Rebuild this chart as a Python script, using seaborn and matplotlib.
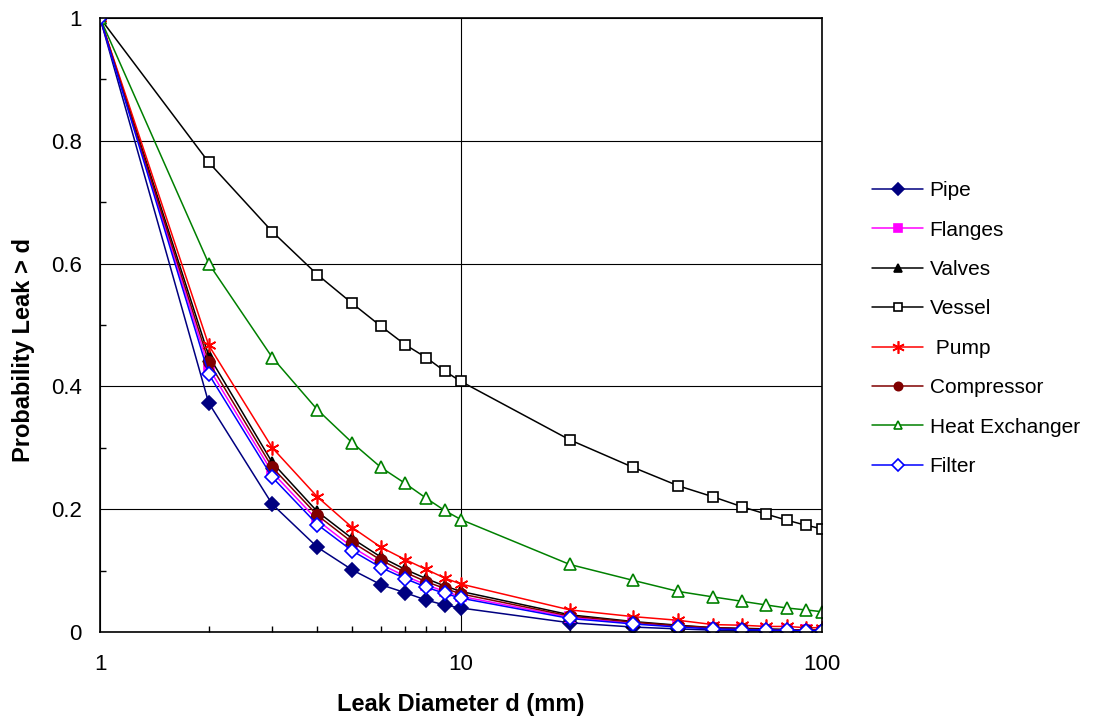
import matplotlib
matplotlib.use('Agg')

import numpy as np
import pandas as pd
import seaborn as sns
import matplotlib.pyplot as plt
from matplotlib.ticker import FixedLocator, NullFormatter

sns.set_style("white")
plt.rcParams['font.family'] = ['Liberation Sans', 'DejaVu Sans']
plt.rcParams['text.color'] = 'black'
plt.rcParams['axes.labelcolor'] = 'black'

# leak diameters (mm)
diam = [1, 2, 3, 4, 5, 6, 7, 8, 9, 10, 20, 30, 40, 50, 60, 70, 80, 90, 100]

pipe = [1, 0.373, 0.208, 0.138, 0.101, 0.077, 0.064, 0.052, 0.044, 0.039,
        0.015, 0.008, 0.005, 0.003, 0.002, 0.002, 0.001, 0.001, 0.001]
flanges = [1, 0.43, 0.26, 0.182, 0.138, 0.110, 0.091, 0.077, 0.066, 0.058,
           0.024, 0.014, 0.009, 0.006, 0.005, 0.004, 0.003, 0.003, 0.002]
valves = [1, 0.45, 0.276, 0.196, 0.152, 0.122, 0.102, 0.087, 0.075, 0.066,
          0.028, 0.017, 0.011, 0.007, 0.006, 0.005, 0.004, 0.003, 0.003]
vessel = [1, 0.765, 0.652, 0.582, 0.535, 0.498, 0.468, 0.447, 0.425, 0.408,
          0.313, 0.268, 0.238, 0.220, 0.204, 0.192, 0.182, 0.174, 0.168]
pump = [1, 0.467, 0.300, 0.220, 0.170, 0.138, 0.118, 0.102, 0.088, 0.078,
        0.036, 0.025, 0.019, 0.012, 0.011, 0.009, 0.009, 0.007, 0.007]
compressor = [1, 0.44, 0.268, 0.190, 0.146, 0.117, 0.097, 0.082, 0.071, 0.062,
              0.026, 0.016, 0.010, 0.007, 0.005, 0.004, 0.004, 0.003, 0.003]
heat_exch = [1, 0.600, 0.447, 0.362, 0.308, 0.268, 0.242, 0.218, 0.198, 0.183,
             0.110, 0.084, 0.066, 0.057, 0.050, 0.044, 0.039, 0.036, 0.033]
filt = [1, 0.42, 0.252, 0.175, 0.132, 0.105, 0.087, 0.073, 0.063, 0.055,
        0.022, 0.013, 0.008, 0.005, 0.004, 0.003, 0.003, 0.002, 0.002]

names = ["Pipe", "Flanges", "Valves", "Vessel", " Pump", "Compressor",
         "Heat Exchanger", "Filter"]
series = [pipe, flanges, valves, vessel, pump, compressor, heat_exch, filt]

colors = {"Pipe": "#000080", "Flanges": "#FF00FF", "Valves": "#000000",
          "Vessel": "#000000", " Pump": "#FF0000", "Compressor": "#800000",
          "Heat Exchanger": "#008000", "Filter": "#0000FF"}
marks = {"Pipe": "D", "Flanges": "s", "Valves": "^", "Vessel": "s",
         " Pump": (6, 2, 0), "Compressor": "o", "Heat Exchanger": "^",
         "Filter": "D"}
sizes = {"Pipe": 7, "Flanges": 7, "Valves": 8.5, "Vessel": 7.5, " Pump": 10,
         "Compressor": 8, "Heat Exchanger": 9, "Filter": 7.5}
hollow = ["Vessel", "Heat Exchanger", "Filter"]

fig, ax = plt.subplots(figsize=(11.08, 7.23), dpi=100)
fig.subplots_adjust(left=0.0903, right=0.7419, top=0.9751, bottom=0.1259)

ax.set_xscale("log")
for n, s in zip(names, series):
    df = pd.DataFrame({"d": diam, "p": s})
    face = "white" if n in hollow else colors[n]
    sns.lineplot(data=df, x="d", y="p", ax=ax, color=colors[n], label=n,
                 marker=marks[n], markersize=sizes[n], markerfacecolor=face,
                 markeredgecolor=colors[n], markeredgewidth=1.2,
                 linewidth=1.1)

ax.set_xlim(1, 100)
ax.set_ylim(0, 1)
ax.set_yticks([0, 0.2, 0.4, 0.6, 0.8, 1])
ax.set_yticklabels(["0", "0.2", "0.4", "0.6", "0.8", "1"])
ax.yaxis.set_minor_locator(FixedLocator([0.1, 0.3, 0.5, 0.7, 0.9]))
ax.set_xticks([1, 10, 100])
ax.set_xticklabels(["1", "10", "100"])
ax.xaxis.set_minor_formatter(NullFormatter())

ax.grid(True, which="major", color="black", linewidth=0.8)
ax.tick_params(which="major", direction="out", length=6, width=1,
               labelsize=16, colors="black")
ax.tick_params(axis="x", which="major", pad=10)
ax.tick_params(axis="y", which="major", pad=7)
ax.tick_params(which="minor", direction="in", length=4, width=1,
               bottom=True, left=True, colors="black")
for sp in ax.spines.values():
    sp.set_color("black")
    sp.set_linewidth(1.2)

ax.set_xlabel("Leak Diameter d (mm)", fontsize=17, fontweight="bold",
              color="black")
ax.set_ylabel("Probability Leak > d", fontsize=17, fontweight="bold",
              color="black")
ax.xaxis.set_label_coords(0.5, -0.1)
ax.yaxis.set_label_coords(-0.09, 0.46)

handles, labels = ax.get_legend_handles_labels()
leg = ax.legend(handles, labels, loc="center left",
                bbox_to_anchor=(1.058, 0.494), frameon=False, fontsize=15,
                handlelength=2.45, labelspacing=0.98, handletextpad=0.3,
                borderaxespad=0)
for h in leg.legend_handles:
    h.set_markersize(9 if h.get_label() == " Pump" else 6)
for t in leg.get_texts():
    t.set_color("black")

fig.savefig("out.png", dpi=100)
